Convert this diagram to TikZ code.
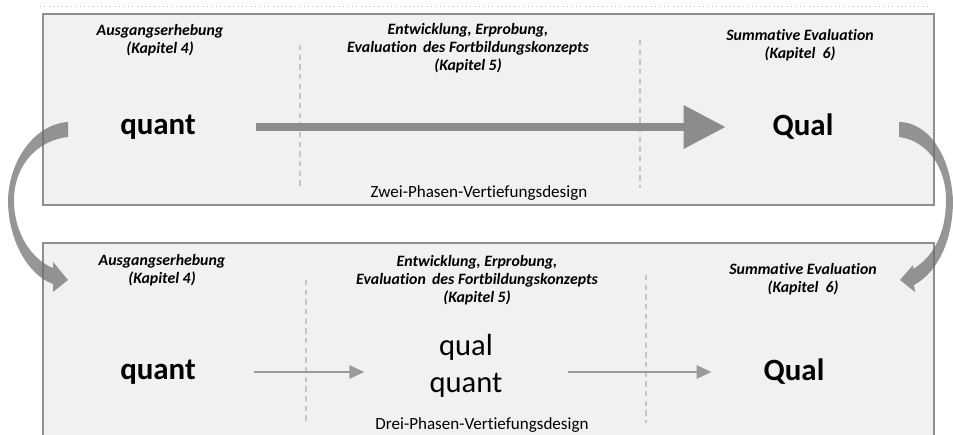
\documentclass[tikz,border=0pt]{standalone}
\usepackage{fontspec}
\setmainfont[Ligatures=NoCommon]{Carlito}
\usetikzlibrary{arrows.meta}
\usepackage{xcolor}
\definecolor{boxgray}{HTML}{F1F1F1}
\definecolor{framegray}{HTML}{8E8E8E}
\definecolor{dashgray}{HTML}{C4C4C4}
\definecolor{arrowgray}{HTML}{8C8C8C}
\definecolor{thingray}{HTML}{9A9A9A}
\definecolor{bendgray}{HTML}{6E6E6E}
\tikzstyle{phasebox} = [draw=framegray, fill=boxgray, line width=0.8pt]
\tikzstyle{phase} = [font=\fontsize{9}{10.2}\selectfont\bfseries\itshape, align=center, inner sep=0pt]
\tikzstyle{method} = [font=\fontsize{17.6}{21}\selectfont\bfseries, inner sep=0pt]
\tikzstyle{mixed} = [font=\fontsize{17.4}{21}\selectfont, align=center, inner sep=0pt]
\tikzstyle{design} = [font=\fontsize{9.7}{11}\selectfont, inner sep=0pt]
\tikzstyle{divider} = [draw=dashgray, line width=0.6pt, dash pattern=on 3pt off 2.5pt]
\tikzstyle{bigarrow} = [draw=arrowgray, line width=5.1pt, -{Triangle[length=24pt,width=23.5pt]}]
\tikzstyle{arrow} = [draw=thingray, line width=1.4pt, -{Triangle[length=8.5pt,width=7.5pt]}]
\tikzstyle{turnarrow} = [fill=bendgray, fill opacity=0.72]

\begin{document}
\begin{tikzpicture}[x=0.02cm, y=-0.02cm]
	\useasboundingbox (0,0) rectangle (953,435);
	\clip (0,0) rectangle (953,435);
	%Rule
	\draw[dashgray, dotted, line width=0.5pt] (40,6) -- (930,6);
	%Zwei-Phasen box
	\draw[phasebox] (43,14) rectangle (934,205);
	\draw[divider] (300,45) -- (300,188);
	\draw[divider] (640,40) -- (640,188);
	\node[phase] (pre1) at (160,40) {Ausgangserhebung\\(Kapitel 4)};
	\node[phase] (dev1) at (468,48) {Entwicklung, Erprobung,\\Evaluation\ \,des Fortbildungskonzepts\\(Kapitel 5)};
	\node[phase] (sum1) at (800,45) {Summative Evaluation\\(Kapitel\ \ 6)};
	\node[method] (quant1) at (158,127) {quant};
	\node[method] (qual1) at (803,127) {Qual};
	\draw[bigarrow, shorten <=34pt, shorten >=26.5pt] (quant1.east) -- (qual1.west);
	\node[design] (two) at (479,193) {Zwei-Phasen-Vertiefungsdesign};
	%Drei-Phasen box
	\draw[phasebox] (43,243) rectangle (934,450);
	\draw[divider] (306,280) -- (306,423);
	\draw[divider] (646,275) -- (646,423);
	\node[phase] (pre2) at (162,270) {Ausgangserhebung\\(Kapitel 4)};
	\node[phase] (dev2) at (477,280) {Entwicklung, Erprobung,\\Evaluation\ \,des Fortbildungskonzepts\\(Kapitel 5)};
	\node[phase] (sum2) at (803,279) {Summative Evaluation\\(Kapitel\ \ 6)};
	\node[method] (quant2) at (158,372) {quant};
	\node[mixed] (mix2) at (466,366) {qual\\quant};
	\node[method] (qual2) at (794,372) {Qual};
	\draw[arrow, shorten <=33pt, shorten >=37pt] (quant2.east) -- (quant2.east -| mix2.west);
	\draw[arrow, shorten <=37pt, shorten >=29.5pt] (mix2.east |- qual2.west) -- (qual2.west);
	\node[design] (three) at (482,425) {Drei-Phasen-Vertiefungsdesign};
	%Left turn
	\path[turnarrow] (68,122) .. controls (35,124) and (9,160) .. (8,200)
		.. controls (8,240) and (28,275) .. (53,284) -- (53,292) -- (68,280) -- (53,262)
		-- (53,268) .. controls (33,260) and (14,235) .. (14,200)
		.. controls (14,165) and (38,140) .. (68,137) -- cycle;
	%Right turn
	\path[turnarrow] (899,122) .. controls (925,122) and (950,150) .. (953,200)
		.. controls (953,240) and (938,272) .. (914,285) -- (915,292) -- (900,280) -- (913,265)
		-- (913,269) .. controls (932,258) and (946,235) .. (946,200)
		.. controls (946,165) and (925,140) .. (899,137) -- cycle;
\end{tikzpicture}
\end{document}
